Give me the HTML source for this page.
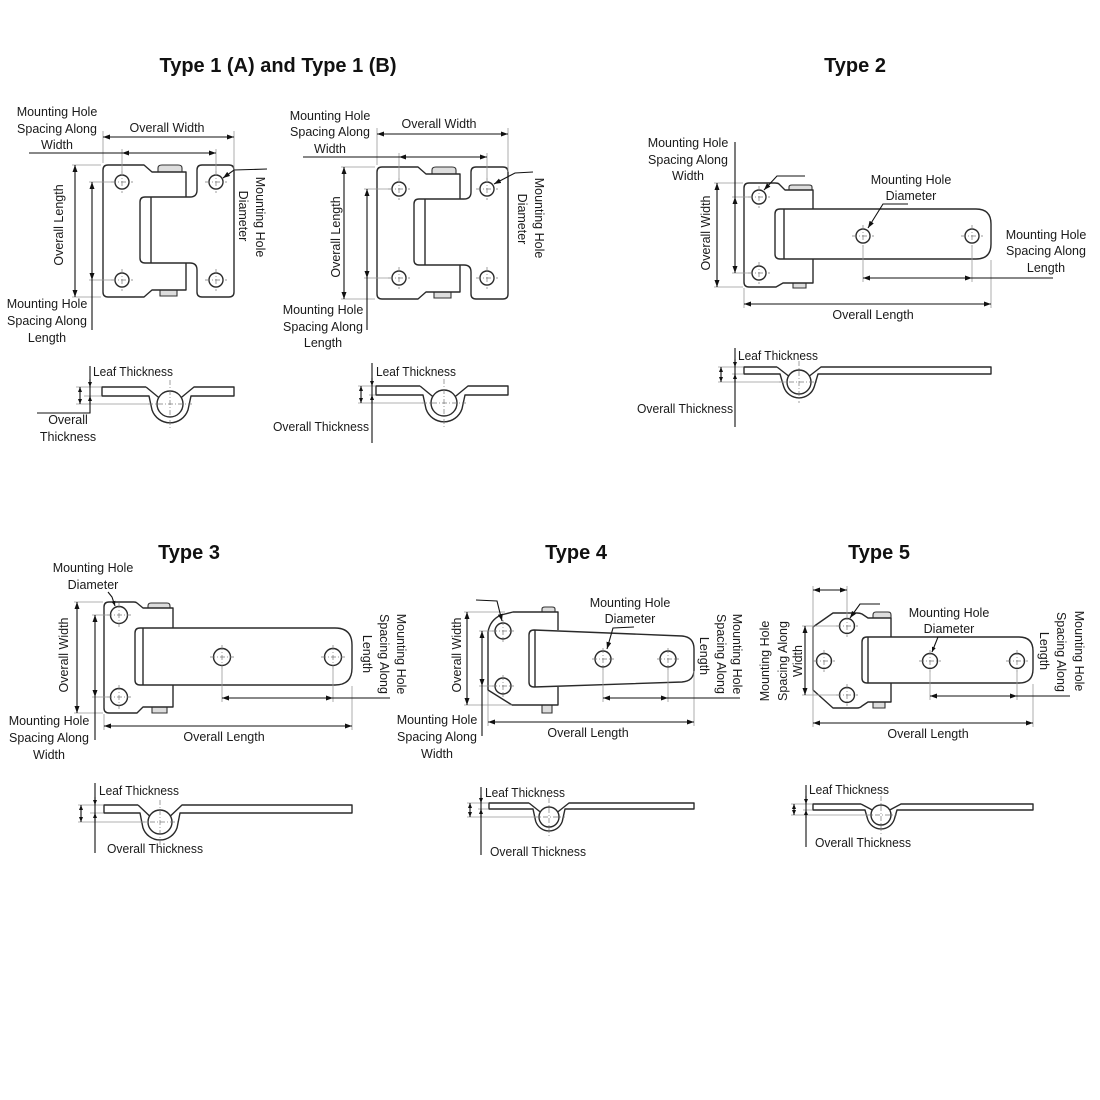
<!DOCTYPE html>
<html><head><meta charset="utf-8"><style>
html,body{margin:0;padding:0;background:#fff;}
svg{display:block;}
.o{fill:none;stroke:#2a2a2a;stroke-width:1.4;stroke-linejoin:round}
.d{stroke:#111;stroke-width:1.1;fill:none}
.e{stroke:#999;stroke-width:0.8;fill:none}
.c{stroke:#777;stroke-width:0.7;stroke-dasharray:5 2 1 2;fill:none}
.p{fill:#ddd;stroke:#333;stroke-width:1.1}
text{font-family:"Liberation Sans",sans-serif;font-size:12.5px;fill:#1a1a1a}
.t{font-weight:bold;font-size:20px;fill:#111}
</style></head><body>
<svg width="1100" height="1100" viewBox="0 0 1100 1100" xmlns="http://www.w3.org/2000/svg">
<defs>
<marker id="a" markerWidth="7" markerHeight="5" refX="7" refY="2.5" orient="auto-start-reverse" markerUnits="userSpaceOnUse"><path d="M0,0 L7,2.5 L0,5 Z" fill="#111"/></marker>
<marker id="b" markerWidth="5" markerHeight="4" refX="5" refY="2" orient="auto-start-reverse" markerUnits="userSpaceOnUse"><path d="M0,0 L5,2 L0,4 Z" fill="#111"/></marker>
</defs>

<!-- TITLES -->
<text class="t" x="278" y="72" text-anchor="middle">Type 1 (A) and Type 1 (B)</text>
<text class="t" x="855" y="72" text-anchor="middle">Type 2</text>
<text class="t" x="189" y="559" text-anchor="middle">Type 3</text>
<text class="t" x="576" y="559" text-anchor="middle">Type 4</text>
<text class="t" x="879" y="559" text-anchor="middle">Type 5</text>

<!-- ================= TYPE 1A ================= -->
<g id="p1">
<path class="p" d="M158,172 V168 Q158,165 162,165 H178 Q182,165 182,168 V172 Z"/>
<path class="p" d="M160,290 V296 H177 V290 Z"/>
<path class="o" d="M186,197 V172 H152 L144,165 H108 Q103,165 103,170 V292 Q103,297 108,297 H144 L152,290 H186 V263"/>
<path class="o" d="M190,197 H145 Q140,197 140,202 V258 Q140,263 145,263 H190 M151,197 V263"/>
<path class="o" d="M190,197 Q197,197 197,190 V170 Q197,165 202,165 H229 Q234,165 234,170 V292 Q234,297 229,297 H202 Q197,297 197,292 V270 Q197,263 190,263"/>
</g>
<g>
<circle class="o" cx="122" cy="182" r="7"/><circle class="o" cx="122" cy="280" r="7"/>
<circle class="o" cx="216" cy="182" r="7"/><circle class="o" cx="216" cy="280" r="7"/>
<path class="c" d="M111,182 H133 M122,171 V193 M111,280 H133 M122,269 V291 M205,182 H227 M216,171 V193 M205,280 H227 M216,269 V291"/>
</g>
<path class="e" d="M103,131 V163 M234,131 V171 M122,149 V175 M216,149 V175 M72,165 H101 M72,297 H101 M89,182 H111 M89,280 H111"/>
<line class="d" x1="103" y1="137" x2="234" y2="137" marker-start="url(#a)" marker-end="url(#a)"/>
<line class="d" x1="29" y1="153" x2="122" y2="153"/>
<line class="d" x1="122" y1="153" x2="216" y2="153" marker-start="url(#a)" marker-end="url(#a)"/>
<line class="d" x1="75" y1="165" x2="75" y2="297" marker-start="url(#a)" marker-end="url(#a)"/>
<line class="d" x1="92" y1="182" x2="92" y2="280" marker-start="url(#a)" marker-end="url(#a)"/>
<line class="d" x1="92" y1="280" x2="92" y2="330"/>
<polyline class="d" points="267,169 234,170 223,178" marker-end="url(#a)"/>
<text x="57" y="116" text-anchor="middle">Mounting Hole</text>
<text x="57" y="133" text-anchor="middle">Spacing Along</text>
<text x="57" y="149" text-anchor="middle">Width</text>
<text x="167" y="132" text-anchor="middle">Overall Width</text>
<text transform="translate(63,225) rotate(-90)" text-anchor="middle">Overall Length</text>
<text x="47" y="308" text-anchor="middle">Mounting Hole</text>
<text x="47" y="325" text-anchor="middle">Spacing Along</text>
<text x="47" y="342" text-anchor="middle">Length</text>
<text transform="translate(256,217) rotate(90)" text-anchor="middle">Mounting Hole</text>
<text transform="translate(239,216) rotate(90)" text-anchor="middle">Diameter</text>

<!-- side 1A -->
<g id="s1">
<path class="o" d="M146,387 H102 V396 H149 L152,409.9 A19,19 0 0 0 188,409.9 L191,396 H234 V387 H194 L181.3,397.5 M146,387 L158.7,397.5"/>
<circle class="o" cx="170" cy="404" r="13"/>
<path class="c" d="M170,380 V428 M148,404 H192"/>
</g>
<path class="e" d="M76,387 H101 M84,396 H101 M76,404 H148"/>
<path class="d" d="M90,366 V413 H37"/>
<line class="d" x1="90" y1="379" x2="90" y2="387" marker-end="url(#b)"/>
<line class="d" x1="90" y1="404" x2="90" y2="396" marker-end="url(#b)"/>
<line class="d" x1="80" y1="387" x2="80" y2="404" marker-start="url(#b)" marker-end="url(#b)"/>
<text x="93" y="376" textLength="80" lengthAdjust="spacingAndGlyphs">Leaf Thickness</text>
<text x="68" y="424" text-anchor="middle">Overall</text>
<text x="68" y="441" text-anchor="middle">Thickness</text>

<!-- ================= TYPE 1B ================= -->
<use href="#p1" transform="translate(274,2)"/>
<circle class="o" cx="399" cy="189" r="7"/><circle class="o" cx="399" cy="278" r="7"/>
<circle class="o" cx="487" cy="189" r="7"/><circle class="o" cx="487" cy="278" r="7"/>
<path class="c" d="M388,189 H410 M399,178 V200 M388,278 H410 M399,267 V289 M476,189 H498 M487,178 V200 M476,278 H498 M487,267 V289"/>
<path class="e" d="M377,128 V165 M508,128 V172 M399,153 V182 M487,153 V182 M341,167 H375 M341,299 H375 M364,189 H388 M364,278 H388"/>
<line class="d" x1="377" y1="134" x2="508" y2="134" marker-start="url(#a)" marker-end="url(#a)"/>
<line class="d" x1="303" y1="157" x2="399" y2="157"/>
<line class="d" x1="399" y1="157" x2="487" y2="157" marker-start="url(#a)" marker-end="url(#a)"/>
<line class="d" x1="344" y1="167" x2="344" y2="299" marker-start="url(#a)" marker-end="url(#a)"/>
<line class="d" x1="367" y1="189" x2="367" y2="278" marker-start="url(#a)" marker-end="url(#a)"/>
<line class="d" x1="367" y1="278" x2="367" y2="330"/>
<polyline class="d" points="533,172 515,173 494,184" marker-end="url(#a)"/>
<text x="330" y="120" text-anchor="middle">Mounting Hole</text>
<text x="330" y="136" text-anchor="middle">Spacing Along</text>
<text x="330" y="153" text-anchor="middle">Width</text>
<text x="439" y="128" text-anchor="middle">Overall Width</text>
<text transform="translate(340,237) rotate(-90)" text-anchor="middle">Overall Length</text>
<text x="323" y="314" text-anchor="middle">Mounting Hole</text>
<text x="323" y="331" text-anchor="middle">Spacing Along</text>
<text x="323" y="347" text-anchor="middle">Length</text>
<text transform="translate(535,218) rotate(90)" text-anchor="middle">Mounting Hole</text>
<text transform="translate(518,219) rotate(90)" text-anchor="middle">Diameter</text>

<!-- side 1B -->
<use href="#s1" transform="translate(274,-1)"/>
<path class="e" d="M358,386 H375 M369,395 H375 M358,403 H422"/>
<path class="d" d="M372,363 V443"/>
<line class="d" x1="372" y1="378" x2="372" y2="386" marker-end="url(#b)"/>
<line class="d" x1="372" y1="403" x2="372" y2="395" marker-end="url(#b)"/>
<line class="d" x1="361" y1="386" x2="361" y2="403" marker-start="url(#b)" marker-end="url(#b)"/>
<text x="376" y="376" textLength="80" lengthAdjust="spacingAndGlyphs">Leaf Thickness</text>
<text x="369" y="431" text-anchor="end" textLength="96" lengthAdjust="spacingAndGlyphs">Overall Thickness</text>

<!-- ================= TYPE 2 ================= -->
<path class="p" d="M789,190 V187 Q789,185 792,185 H809 Q812,185 812,187 V190 Z"/>
<path class="p" d="M793,283 V288 H806 V283 Z"/>
<path class="o" d="M813,209 V190 H785 L779,184 Q778,183 775,183 H749 Q744,183 744,188 V282 Q744,287 749,287 H776 L783,283 H813 V259"/>
<path class="o" d="M780,209 H976 Q991,209 991,224 V244 Q991,259 976,259 H780 Q775,259 775,254 V214 Q775,209 780,209 Z M784,209 V259"/>
<circle class="o" cx="759" cy="197" r="7"/><circle class="o" cx="759" cy="273" r="7"/>
<circle class="o" cx="863" cy="236" r="7"/><circle class="o" cx="972" cy="236" r="7"/>
<path class="c" d="M748,197 H770 M759,186 V208 M748,273 H770 M759,262 V284 M852,236 H874 M863,225 V247 M961,236 H983 M972,225 V247"/>
<path class="e" d="M714,183 H743 M714,287 H743 M732,197 H748 M732,273 H748 M744,288 V308 M991,260 V308 M863,247 V282 M972,247 V282"/>
<line class="d" x1="717" y1="183" x2="717" y2="287" marker-start="url(#a)" marker-end="url(#a)"/>
<line class="d" x1="735" y1="142" x2="735" y2="197"/>
<line class="d" x1="735" y1="197" x2="735" y2="273" marker-start="url(#a)" marker-end="url(#a)"/>
<line class="d" x1="744" y1="304" x2="991" y2="304" marker-start="url(#a)" marker-end="url(#a)"/>
<line class="d" x1="863" y1="278" x2="972" y2="278" marker-start="url(#a)" marker-end="url(#a)"/>
<line class="d" x1="972" y1="278" x2="1053" y2="278"/>
<polyline class="d" points="908,204 883,204 868,228" marker-end="url(#a)"/>
<polyline class="d" points="805,176 777,176 764,190" marker-end="url(#a)"/>
<text x="688" y="147" text-anchor="middle">Mounting Hole</text>
<text x="688" y="164" text-anchor="middle">Spacing Along</text>
<text x="688" y="180" text-anchor="middle">Width</text>
<text transform="translate(710,233) rotate(-90)" text-anchor="middle">Overall Width</text>
<text x="911" y="184" text-anchor="middle">Mounting Hole</text>
<text x="911" y="200" text-anchor="middle">Diameter</text>
<text x="1046" y="239" text-anchor="middle">Mounting Hole</text>
<text x="1046" y="255" text-anchor="middle">Spacing Along</text>
<text x="1046" y="272" text-anchor="middle">Length</text>
<text x="873" y="319" text-anchor="middle">Overall Length</text>

<!-- side 2 -->
<path class="o" d="M777,367 H744 V374 H780 L783.8,386.9 A16,16 0 0 0 814.2,386.9 L818,374 H991 V367 H821 L809.4,376 M777,367 L788.6,376"/>
<circle class="o" cx="799" cy="382" r="12"/>
<path class="c" d="M799,361 V403 M779,382 H819"/>
<path class="e" d="M718,367 H743 M732,374 H743 M718,382 H786"/>
<path class="d" d="M735,348 V427"/>
<line class="d" x1="735" y1="359" x2="735" y2="367" marker-end="url(#b)"/>
<line class="d" x1="735" y1="382" x2="735" y2="374" marker-end="url(#b)"/>
<line class="d" x1="721" y1="367" x2="721" y2="382" marker-start="url(#b)" marker-end="url(#b)"/>
<text x="738" y="360" textLength="80" lengthAdjust="spacingAndGlyphs">Leaf Thickness</text>
<text x="733" y="413" text-anchor="end" textLength="96" lengthAdjust="spacingAndGlyphs">Overall Thickness</text>

<!-- ================= TYPE 3 ================= -->
<path class="p" d="M148,608 V606 Q148,603 151,603 H167 Q170,603 170,606 V608 Z"/>
<path class="p" d="M152,707 V713 H167 V707 Z"/>
<path class="o" d="M173,628 V608 H143 L137,603 Q136,602 134,602 H109 Q104,602 104,607 V708 Q104,713 109,713 H137 L143,707 H173 V685"/>
<path class="o" d="M140,628 H335 Q352,628 352,645 V668 Q352,685 335,685 H140 Q135,685 135,680 V633 Q135,628 140,628 Z M143,628 V685"/>
<circle class="o" cx="119" cy="615" r="8.5"/><circle class="o" cx="119" cy="697" r="8.5"/>
<circle class="o" cx="222" cy="657" r="8.5"/><circle class="o" cx="333" cy="657" r="8.5"/>
<path class="c" d="M107,615 H131 M119,603 V627 M107,697 H131 M119,685 V709 M210,657 H234 M222,645 V669 M321,657 H345 M333,645 V669"/>
<path class="e" d="M74,602 H103 M74,713 H103 M92,615 H107 M92,697 H107 M104,714 V730 M352,686 V730 M222,669 V702 M333,669 V702"/>
<line class="d" x1="77" y1="602" x2="77" y2="713" marker-start="url(#a)" marker-end="url(#a)"/>
<line class="d" x1="95" y1="615" x2="95" y2="697" marker-start="url(#a)" marker-end="url(#a)"/>
<line class="d" x1="95" y1="697" x2="95" y2="740"/>
<line class="d" x1="104" y1="726" x2="352" y2="726" marker-start="url(#a)" marker-end="url(#a)"/>
<line class="d" x1="222" y1="698" x2="333" y2="698" marker-start="url(#a)" marker-end="url(#a)"/>
<line class="d" x1="333" y1="698" x2="390" y2="698"/>
<polyline class="d" points="108,592 112,597 115,606" marker-end="url(#b)"/>
<text x="93" y="572" text-anchor="middle">Mounting Hole</text>
<text x="93" y="589" text-anchor="middle">Diameter</text>
<text transform="translate(68,655) rotate(-90)" text-anchor="middle">Overall Width</text>
<text x="49" y="725" text-anchor="middle">Mounting Hole</text>
<text x="49" y="742" text-anchor="middle">Spacing Along</text>
<text x="49" y="759" text-anchor="middle">Width</text>
<text x="224" y="741" text-anchor="middle">Overall Length</text>
<text transform="translate(397,654) rotate(90)" text-anchor="middle">Mounting Hole</text>
<text transform="translate(380,654) rotate(90)" text-anchor="middle">Spacing Along</text>
<text transform="translate(363,654) rotate(90)" text-anchor="middle">Length</text>

<!-- side 3 -->
<path class="o" d="M138,805 H104 V813 H140 L142.9,827.6 A18,18 0 0 0 177.1,827.6 L180,813 H352 V805 H182 L170.4,816 M138,805 L149.6,816"/>
<circle class="o" cx="160" cy="822" r="12"/>
<path class="c" d="M160,800 V846 M140,822 H180"/>
<path class="e" d="M78,805 H103 M90,813 H103 M78,822 H148"/>
<path class="d" d="M95,783 V853"/>
<line class="d" x1="95" y1="797" x2="95" y2="805" marker-end="url(#b)"/>
<line class="d" x1="95" y1="821" x2="95" y2="813" marker-end="url(#b)"/>
<line class="d" x1="81" y1="805" x2="81" y2="822" marker-start="url(#b)" marker-end="url(#b)"/>
<text x="99" y="795" textLength="80" lengthAdjust="spacingAndGlyphs">Leaf Thickness</text>
<text x="107" y="853" textLength="96" lengthAdjust="spacingAndGlyphs">Overall Thickness</text>

<!-- ================= TYPE 4 ================= -->
<path class="p" d="M542,612 V609 Q542,607 545,607 H552 Q555,607 555,609 V612 Z"/>
<path class="p" d="M542,705 V713 H552 V705 Z"/>
<path class="o" d="M558,630 V612 H513 L501,615 Q490,620 488,632 V690 L512,705 H558 V687"/>
<path class="o" d="M534,630 L682,636 Q694,637 694,649 V670 Q694,681 682,682 L534,687 Q529,687 529,682 V635 Q529,630 534,630 Z M535,630 V687"/>
<circle class="o" cx="503" cy="631" r="8"/><circle class="o" cx="503" cy="686" r="8"/>
<circle class="o" cx="603" cy="659" r="8"/><circle class="o" cx="668" cy="659" r="8"/>
<path class="c" d="M492,631 H514 M503,620 V642 M492,686 H514 M503,675 V697 M592,659 H614 M603,648 V670 M657,659 H679 M668,648 V670"/>
<path class="e" d="M464,612 H505 M464,705 H512 M479,631 H492 M479,686 H492 M488,691 V726 M694,671 V726 M603,670 V702 M668,670 V702"/>
<line class="d" x1="467" y1="612" x2="467" y2="705" marker-start="url(#a)" marker-end="url(#a)"/>
<line class="d" x1="482" y1="631" x2="482" y2="686" marker-start="url(#a)" marker-end="url(#a)"/>
<line class="d" x1="482" y1="686" x2="482" y2="736"/>
<line class="d" x1="488" y1="722" x2="694" y2="722" marker-start="url(#a)" marker-end="url(#a)"/>
<line class="d" x1="603" y1="698" x2="668" y2="698" marker-start="url(#a)" marker-end="url(#a)"/>
<line class="d" x1="668" y1="698" x2="740" y2="698"/>
<polyline class="d" points="634,627 613,628 607,649" marker-end="url(#a)"/>
<polyline class="d" points="476,600 497,601 502,621" marker-end="url(#a)"/>
<text x="630" y="607" text-anchor="middle">Mounting Hole</text>
<text x="630" y="623" text-anchor="middle">Diameter</text>
<text transform="translate(461,655) rotate(-90)" text-anchor="middle">Overall Width</text>
<text x="437" y="724" text-anchor="middle">Mounting Hole</text>
<text x="437" y="741" text-anchor="middle">Spacing Along</text>
<text x="437" y="758" text-anchor="middle">Width</text>
<text x="588" y="737" text-anchor="middle">Overall Length</text>
<text transform="translate(733,654) rotate(90)" text-anchor="middle">Mounting Hole</text>
<text transform="translate(717,654) rotate(90)" text-anchor="middle">Spacing Along</text>
<text transform="translate(700,656) rotate(90)" text-anchor="middle">Length</text>

<!-- side 4 -->
<path class="o" d="M529,803 H489 V809 H533 L535.7,821.3 A14,14 0 0 0 562.3,821.3 L565,809 H694 V803 H569 L557.7,812 M529,803 L540.3,812"/>
<circle class="o" cx="549" cy="817" r="10"/>
<path class="c" d="M549,798 V836 M533,817 H565"/>
<path class="e" d="M467,803 H488 M478,809 H488 M467,817 H538"/>
<path class="d" d="M481,787 V855"/>
<line class="d" x1="481" y1="795" x2="481" y2="803" marker-end="url(#b)"/>
<line class="d" x1="481" y1="817" x2="481" y2="809" marker-end="url(#b)"/>
<line class="d" x1="470" y1="803" x2="470" y2="817" marker-start="url(#b)" marker-end="url(#b)"/>
<text x="485" y="797" textLength="80" lengthAdjust="spacingAndGlyphs">Leaf Thickness</text>
<text x="490" y="856" textLength="96" lengthAdjust="spacingAndGlyphs">Overall Thickness</text>

<!-- ================= TYPE 5 ================= -->
<path class="p" d="M873,618 V615 Q873,612 876,612 H888 Q891,612 891,615 V618 Z"/>
<path class="p" d="M873,702 V708 H885 V702 Z"/>
<path class="o" d="M891,637 V618 H868 L862,614 Q860,613 857,613 H833 L813,627 V690 L833,708 H857 Q860,708 862,706 L868,702 H891 V683"/>
<path class="o" d="M867,637 H1019 Q1033,637 1033,651 V669 Q1033,683 1019,683 H867 Q862,683 862,678 V642 Q862,637 867,637 Z M868,637 V683"/>
<circle class="o" cx="847" cy="626" r="7.5"/><circle class="o" cx="847" cy="695" r="7.5"/>
<circle class="o" cx="824" cy="661" r="7.5"/>
<circle class="o" cx="930" cy="661" r="7.5"/><circle class="o" cx="1017" cy="661" r="7.5"/>
<path class="c" d="M836,626 H858 M847,615 V637 M836,695 H858 M847,684 V706 M813,661 H835 M824,650 V672 M919,661 H941 M930,650 V672 M1006,661 H1028 M1017,650 V672"/>
<path class="e" d="M813,586 V727 M847,586 V618 M802,626 H836 M802,695 H836 M1033,684 V727 M930,672 V700 M1017,672 V700"/>
<line class="d" x1="813" y1="590" x2="847" y2="590" marker-start="url(#a)" marker-end="url(#a)"/>
<line class="d" x1="805" y1="626" x2="805" y2="695" marker-start="url(#a)" marker-end="url(#a)"/>
<line class="d" x1="813" y1="723" x2="1033" y2="723" marker-start="url(#a)" marker-end="url(#a)"/>
<line class="d" x1="930" y1="696" x2="1017" y2="696" marker-start="url(#a)" marker-end="url(#a)"/>
<line class="d" x1="1017" y1="696" x2="1070" y2="696"/>
<polyline class="d" points="960,637 938,637 932,652" marker-end="url(#b)"/>
<polyline class="d" points="880,604 860,604 850,618" marker-end="url(#a)"/>
<text x="949" y="617" text-anchor="middle">Mounting Hole</text>
<text x="949" y="633" text-anchor="middle">Diameter</text>
<text transform="translate(769,661) rotate(-90)" text-anchor="middle">Mounting Hole</text>
<text transform="translate(787,661) rotate(-90)" text-anchor="middle">Spacing Along</text>
<text transform="translate(802,661) rotate(-90)" text-anchor="middle">Width</text>
<text x="928" y="738" text-anchor="middle">Overall Length</text>
<text transform="translate(1075,651) rotate(90)" text-anchor="middle">Mounting Hole</text>
<text transform="translate(1057,652) rotate(90)" text-anchor="middle">Spacing Along</text>
<text transform="translate(1040,651) rotate(90)" text-anchor="middle">Length</text>

<!-- side 5 -->
<path class="o" d="M861,804 H813 V810 H865 L867.7,819.3 A14,14 0 0 0 894.3,819.3 L897,810 H1033 V804 H901 L889.7,810 M861,804 L872.3,810"/>
<circle class="o" cx="881" cy="815" r="10"/>
<path class="c" d="M881,796 V834 M865,815 H897"/>
<path class="e" d="M791,804 H812 M803,810 H812 M791,815 H870"/>
<path class="d" d="M806,785 V847"/>
<line class="d" x1="806" y1="796" x2="806" y2="804" marker-end="url(#b)"/>
<line class="d" x1="806" y1="818" x2="806" y2="810" marker-end="url(#b)"/>
<line class="d" x1="794" y1="804" x2="794" y2="815" marker-start="url(#b)" marker-end="url(#b)"/>
<text x="809" y="794" textLength="80" lengthAdjust="spacingAndGlyphs">Leaf Thickness</text>
<text x="815" y="847" textLength="96" lengthAdjust="spacingAndGlyphs">Overall Thickness</text>
</svg>
</body></html>
